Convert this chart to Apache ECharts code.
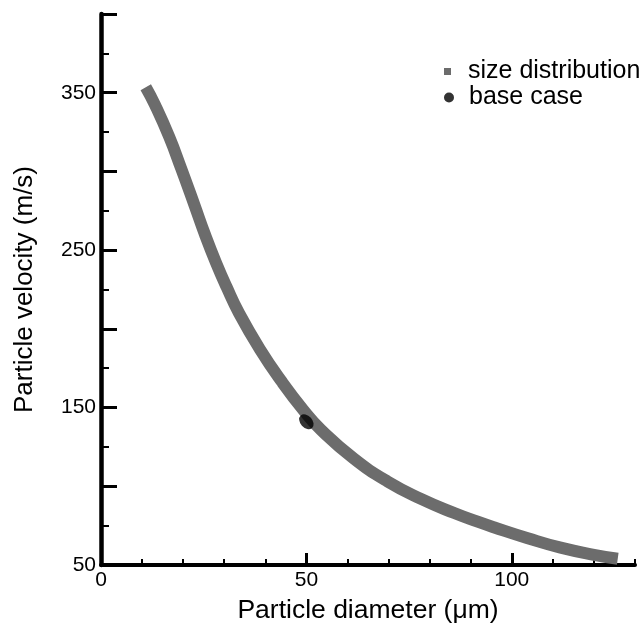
<!DOCTYPE html>
<html><head><meta charset="utf-8">
<script src="https://cdn.jsdelivr.net/npm/echarts@6/dist/echarts.min.js"></script>
<style>html,body{margin:0;padding:0;background:#fff}#c{width:643px;height:630px}</style>
</head><body><div id="c"></div>
<script>
// Data
const diameter = [10.9, 13.1, 16.6, 19.5, 22.7, 25.3, 28.0, 30.5, 33.6, 38.7, 44.0, 49.4, 53.5, 61.6, 69.8, 77.9, 86.0, 91.7, 95.6, 103.9, 111.9, 120.0, 125.8];
const velocity = [353.5, 342.5, 322, 302, 279, 260, 242, 227, 210, 187, 166.5, 148, 136, 117.5, 103, 92, 83, 77.5, 74, 67, 61, 56.5, 54];
const baseDiameter = [50];
const baseVelocity = [141];
const xMinorTicks = [0,10,20,30,40,50,60,70,80,90,100,110,120,130];
const xMajorTicks = [0,50,100];
const xTickLabels = [0,50,100];
const yMinorTicks = [50,75,100,125,150,175,200,225,250,275,300,325,350,375,400];
const yMajorTicks = [50,100,150,200,250,300,350,400];
const yTickLabels = [50,150,250,350];

const FF = '"Liberation Sans", Arial, Helvetica, sans-serif';
const chart = echarts.init(document.getElementById('c'), null, {renderer:'canvas'});
const option = {
  animation: false,
  backgroundColor: '#fff',
  grid: {left: 101, right: 8, top: 14, bottom: 65},
  legend: [
    {data: [{name: 'size distribution', icon: 'rect'}], orient: 'vertical', left: 439, top: 54,
     itemWidth: 7, itemHeight: 7, textStyle: {fontSize: 25, color: '#000', fontFamily: FF, padding: [0,0,0,12]}},
    {data: [{name: 'base case', icon: 'circle'}], orient: 'vertical', left: 439, top: 80,
     itemWidth: 10, itemHeight: 10, textStyle: {fontSize: 25, color: '#000', fontFamily: FF, padding: [0,0,0,10]}}
  ],
  xAxis: [
    {type: 'value', min: 0, max: 130, position: 'bottom',
     axisLine: {show: true, lineStyle: {color: '#000', width: 4}},
     axisTick: {show: true, inside: true, length: 6, lineStyle: {color: '#000', width: 2}, customValues: xMinorTicks},
     axisLabel: {customValues: xTickLabels, fontSize: 21, color: '#000', margin: 5, fontFamily: FF},
     splitLine: {show: false},
     name: 'Particle diameter (\u03bcm)', nameLocation: 'middle', nameGap: 32,
     nameTextStyle: {fontSize: 26.5, color: '#000', fontFamily: FF}},
    {type: 'value', min: 0, max: 130, position: 'bottom',
     axisLine: {show: false},
     axisTick: {show: true, inside: true, length: 12, lineStyle: {color: '#000', width: 3}, customValues: xMajorTicks},
     axisLabel: {show: false}, splitLine: {show: false}}
  ],
  yAxis: [
    {type: 'value', min: 50, max: 400, position: 'left',
     axisLine: {show: true, lineStyle: {color: '#000', width: 4.5}},
     axisTick: {show: true, inside: true, length: 8, lineStyle: {color: '#000', width: 2}, customValues: yMinorTicks},
     axisLabel: {customValues: yTickLabels, fontSize: 21, color: '#000', margin: 5, fontFamily: FF},
     splitLine: {show: false},
     name: 'Particle velocity (m/s)', nameLocation: 'middle', nameGap: 63,
     nameTextStyle: {fontSize: 26, color: '#000', fontFamily: FF}},
    {type: 'value', min: 50, max: 400, position: 'left',
     axisLine: {show: false},
     axisTick: {show: true, inside: true, length: 16, lineStyle: {color: '#000', width: 3}, customValues: yMajorTicks},
     axisLabel: {show: false}, splitLine: {show: false}}
  ],
  series: [
    {type: 'line', name: 'size distribution', xAxisIndex: 0, yAxisIndex: 0,
     data: diameter.map((d, i) => [d, velocity[i]]),
     showSymbol: false, smooth: 0.5, color: '#6c6c6c',
     lineStyle: {width: 12, color: '#6c6c6c', cap: 'butt'}, itemStyle: {color: '#6c6c6c'}, z: 2},
    {type: 'scatter', name: 'base case', xAxisIndex: 0, yAxisIndex: 0,
     data: baseDiameter.map((d, i) => [d, baseVelocity[i]]),
     symbol: 'circle', symbolSize: [17, 12], symbolRotate: -48,
     itemStyle: {color: '#000'}, z: 3}
  ]
};
chart.setOption(option);
</script></body></html>
